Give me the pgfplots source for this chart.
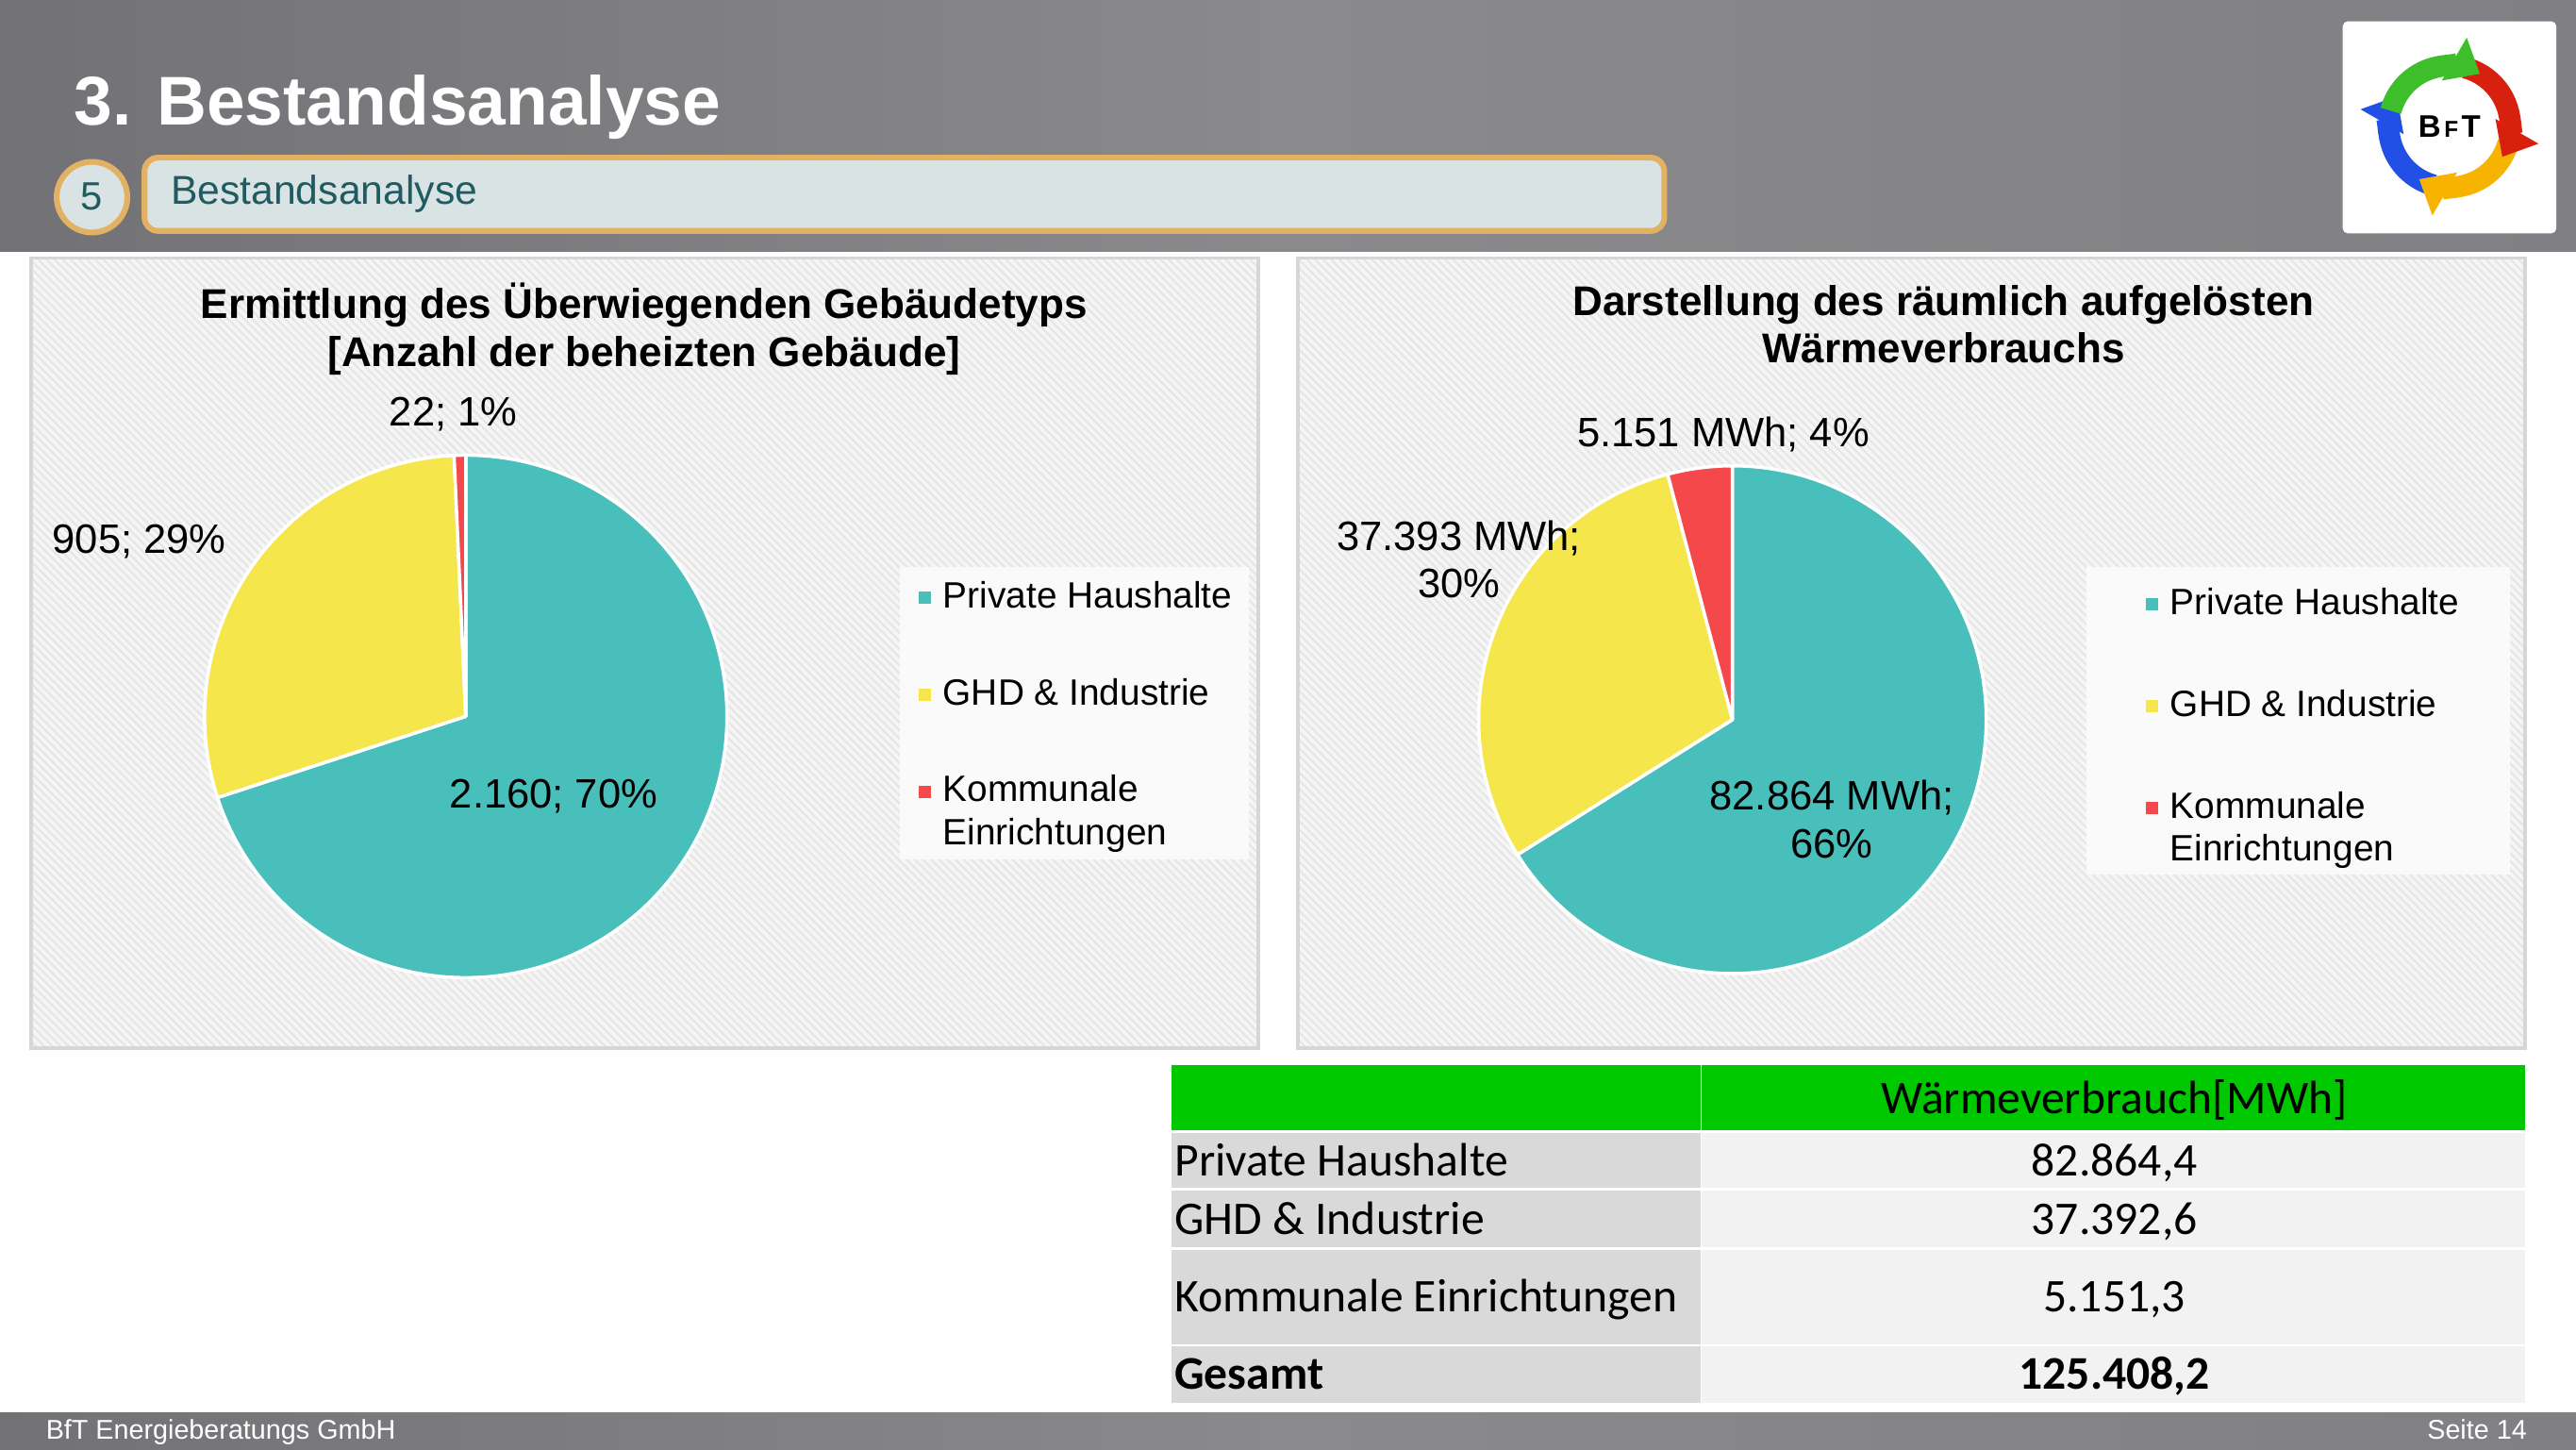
\documentclass[border=0pt]{standalone}
\usepackage{fontspec}
\setmainfont{Liberation Sans}
\newfontfamily\calibri{Carlito}
\usepackage{pgfplots}
\pgfplotsset{compat=1.18}
\usepackage{pgfplotstable}
\usetikzlibrary{patterns.meta,arrows.meta}

\definecolor{pteal}{HTML}{48BFBB}
\definecolor{pyellow}{HTML}{F5E64B}
\definecolor{pred}{HTML}{F5484B}
\definecolor{tabgreen}{HTML}{00C800}
\definecolor{gold}{HTML}{E3B163}
\definecolor{boxfill}{HTML}{D9E3E4}
\definecolor{darkteal}{HTML}{1F5C61}
\definecolor{hdrA}{HTML}{727276}
\definecolor{hdrM}{HTML}{8A8A8D}
\definecolor{hdrB}{HTML}{808084}
\definecolor{cellA}{HTML}{D9D9D9}
\definecolor{cellB}{HTML}{F2F2F2}
\definecolor{lgreen}{HTML}{3DBE2A}
\definecolor{lred}{HTML}{D8200F}
\definecolor{lyellow}{HTML}{F6B400}
\definecolor{lblue}{HTML}{2250E6}

\newcommand\fs[2]{\fontsize{#1}{#2}\selectfont}

% Anzahl der beheizten Gebaeude
\pgfplotstableread{
sektor wert
PH 2160
GHD 905
KE 22
}\gebaeude
% Waermeverbrauch in MWh
\pgfplotstableread{
sektor wert
PH 82864.4
GHD 37392.6
KE 5151.3
}\waerme

% slice boundaries, clockwise from the top
\newcommand\slicesof[2]{%
  \pgfplotstablegetelem{0}{wert}\of#1\edef\va{\pgfplotsretval}%
  \pgfplotstablegetelem{1}{wert}\of#1\edef\vb{\pgfplotsretval}%
  \pgfplotstablegetelem{2}{wert}\of#1\edef\vc{\pgfplotsretval}%
  \expandafter\edef\csname #2a\endcsname{\fpeval{round(90-360*\va/(\va+\vb+\vc),3)}}%
  \expandafter\edef\csname #2b\endcsname{\fpeval{round(90-360*(\va+\vb)/(\va+\vb+\vc),3)}}%
}
\slicesof\gebaeude{angG}
\slicesof\waerme{angW}

\pgfplotsset{piechart/.style={anchor=center, scale only axis, hide axis, clip=false,
  xmin=-1, xmax=1, ymin=-1, ymax=1}}
\tikzset{t/.style={inner sep=0pt, outer sep=0pt},
  slice/.style={draw=white, line width=2pt, line join=round}}

\begin{document}
\begin{tikzpicture}[x=1pt, y=-1pt]
\useasboundingbox (0,0) rectangle (1568,882);
\fill[white] (0,0) rectangle (1568,882);

% header
\shade[left color=hdrA, right color=hdrB, middle color=hdrM] (0,0) rectangle (1568,153);
\node[t, anchor=base west, text=white, font=\bfseries\fs{42}{48}] at (45,76) {3. Bestandsanalyse};
\draw[gold, line width=3.5pt, fill=boxfill] (56,120) circle[radius=21.5];
\node[t, anchor=base, text=darkteal, font=\fs{24}{28}] at (56,128) {5};
\draw[gold, line width=3.5pt, fill=boxfill, rounded corners=8pt] (88,96) rectangle (1013,140.5);
\node[t, anchor=base west, text=darkteal, font=\fs{24.5}{28}] at (104,124.5) {Bestandsanalyse};

% logo
\fill[white, rounded corners=3pt] (1426,13) rectangle (1556,142);
\begin{scope}[shift={(1491,77)}]
\draw[line width=13pt, lblue, -{Triangle[width=29pt,length=18pt]}] (105:37) arc[start angle=105, end angle=210, radius=37];
\draw[line width=13pt, lyellow, -{Triangle[width=29pt,length=18pt]}] (15:37) arc[start angle=15, end angle=120, radius=37];
\draw[line width=13pt, lred, -{Triangle[width=29pt,length=18pt]}] (-75:37) arc[start angle=-75, end angle=30, radius=37];
\draw[line width=13pt, lgreen, -{Triangle[width=29pt,length=18pt]}] (-165:37) arc[start angle=-165, end angle=-60, radius=37];
\node[t, font=\bfseries\fs{19}{19}] at (0,0) {B\hspace{2pt}{\fs{14}{14}F}\hspace{2pt}T};
\end{scope}

% chart panels
\foreach \x in {19,790} {
  \fill[white!96!black] (\x,157) rectangle ++(747,481);
  \fill[pattern={Lines[angle=-45, distance=3.5pt, line width=1.1pt]}, pattern color=black!10] (\x,157) rectangle ++(747,481);
  \draw[black!16, line width=2pt] (\x,157) rectangle ++(747,481);
}
\fill[white!98!black] (548,345) rectangle (760,523);
\fill[white!98!black] (1270,345) rectangle (1528,532);

% pies (positions given in pt, since the axis overrides the unit vectors)
\begin{axis}[piechart, at={(283.5pt,-436pt)}, width=318pt, height=318pt]
\fill[pteal, slice] (axis cs:0,0) -- (axis cs:0,1) arc[start angle=90, end angle=\angGa, radius=1] -- cycle;
\fill[pyellow, slice] (axis cs:0,0) -- (axis cs:{cos(\angGa)},{sin(\angGa)}) arc[start angle=\angGa, end angle=\angGb, radius=1] -- cycle;
\fill[pred, slice] (axis cs:0,0) -- (axis cs:{cos(\angGb)},{sin(\angGb)}) arc[start angle=\angGb, end angle=-270, radius=1] -- cycle;
\end{axis}
\begin{axis}[piechart, at={(1054.5pt,-438pt)}, width=309pt, height=309pt]
\fill[pteal, slice] (axis cs:0,0) -- (axis cs:0,1) arc[start angle=90, end angle=\angWa, radius=1] -- cycle;
\fill[pyellow, slice] (axis cs:0,0) -- (axis cs:{cos(\angWa)},{sin(\angWa)}) arc[start angle=\angWa, end angle=\angWb, radius=1] -- cycle;
\fill[pred, slice] (axis cs:0,0) -- (axis cs:{cos(\angWb)},{sin(\angWb)}) arc[start angle=\angWb, end angle=-270, radius=1] -- cycle;
\end{axis}

% left chart texts
\node[t, anchor=base, font=\bfseries\fs{25.3}{29}] at (392,194) {Ermittlung des Überwiegenden Gebäudetyps};
\node[t, anchor=base, font=\bfseries\fs{25.3}{29}] at (392,223) {[Anzahl der beheizten Gebäude]};
\begin{scope}[every node/.style={t, font=\fs{25}{29}}]
\node[anchor=base] at (276,259) {22; 1\%};
\node[anchor=base west] at (32,337) {905; 29\%};
\node[anchor=base] at (337,492) {2.160; 70\%};
\end{scope}
\begin{scope}[every node/.style={t, anchor=base west, font=\fs{22.3}{26}}]
\fill[pteal] (559,360) rectangle ++(7.5,7.5);
\fill[pyellow] (559,419) rectangle ++(7.5,7.5);
\fill[pred] (559,478) rectangle ++(7.5,7.5);
\node at (574,370) {Private Haushalte};
\node at (574,429) {GHD \& Industrie};
\node at (574,488) {Kommunale};
\node at (574,514) {Einrichtungen};
\end{scope}

% right chart texts
\node[t, anchor=base, font=\bfseries\fs{25.3}{29}] at (1183,192) {Darstellung des räumlich aufgelösten};
\node[t, anchor=base, font=\bfseries\fs{25.3}{29}] at (1183,221) {Wärmeverbrauchs};
\begin{scope}[every node/.style={t, anchor=base, font=\fs{25}{29}}]
\node at (1049,272) {5.151 MWh; 4\%};
\node at (888,335) {37.393 MWh;};
\node at (888,364) {30\%};
\node at (1115,493) {82.864 MWh;};
\node at (1115,522) {66\%};
\end{scope}
\begin{scope}[every node/.style={t, anchor=base west, font=\fs{22.3}{26}}]
\fill[pteal] (1306,364) rectangle ++(7.5,7.5);
\fill[pyellow] (1306,426) rectangle ++(7.5,7.5);
\fill[pred] (1306,488) rectangle ++(7.5,7.5);
\node at (1321,374) {Private Haushalte};
\node at (1321,436) {GHD \& Industrie};
\node at (1321,498) {Kommunale};
\node at (1321,524) {Einrichtungen};
\end{scope}

% table
\fill[tabgreen] (713,648) rectangle (1537,688);
\draw[white, line width=1pt] (1035.5,648) -- (1035.5,688);
\foreach \ya/\yb in {689.5/723, 724.5/759, 760.5/818, 819.5/853.5} {
  \fill[cellA] (713,\ya) rectangle (1035,\yb);
  \fill[cellB] (1036,\ya) rectangle (1537,\yb);
}
\begin{scope}[every node/.style={t, font=\calibri\fs{28.5}{33}}]
\node[anchor=base] at (1287,678) {Wärmeverbrauch[MWh]};
\node[anchor=base west] at (715,715.5) {Private Haushalte};
\node[anchor=base] at (1287,715.5) {82.864,4};
\node[anchor=base west] at (715,751.5) {GHD \& Industrie};
\node[anchor=base] at (1287,751.5) {37.392,6};
\node[anchor=base west] at (715,798.5) {Kommunale Einrichtungen};
\node[anchor=base] at (1287,798.5) {5.151,3};
\node[anchor=base west, font=\calibri\bfseries\fs{28.5}{33}] at (715,845.5) {Gesamt};
\node[anchor=base, font=\calibri\bfseries\fs{28.5}{33}] at (1287,845.5) {125.408,2};
\end{scope}

% footer
\shade[left color=hdrA, right color=hdrB, middle color=hdrM] (0,859.5) rectangle (1568,882);
\node[t, anchor=base west, text=white, font=\fs{16.5}{19}] at (28,876) {BfT Energieberatungs GmbH};
\node[t, anchor=base east, text=white, font=\fs{16.5}{19}] at (1538,876) {Seite 14};
\end{tikzpicture}
\end{document}
